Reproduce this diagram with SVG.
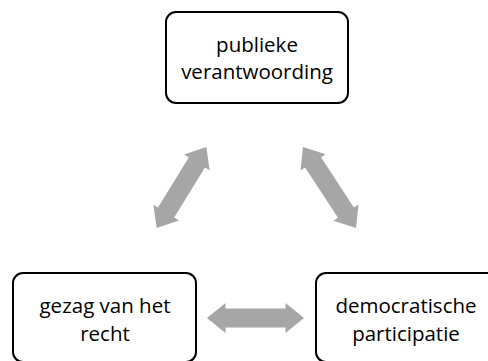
<svg xmlns="http://www.w3.org/2000/svg" width="488" height="361" viewBox="0 0 488 361">
<defs>
<style>
.box{fill:#fff;stroke:#000;stroke-width:2}
.lbl{font-family:"Open Sans","Liberation Sans",sans-serif;font-size:20.5px;fill:#000;text-anchor:middle}
.arr{fill:#a6a6a6}
</style>
<polygon id="arrow" class="arr" points="-48.5,0 -30,-15 -30,-9.5 30,-9.5 30,-15 48.5,0 30,15 30,9.5 -30,9.5 -30,15"/>
</defs>
<rect width="488" height="361" fill="#fff"/>
<g id="connectors">
<use href="#arrow" transform="translate(181.5,187.5) rotate(-58.5) scale(0.98,1)"/>
<use href="#arrow" transform="translate(329.5,187.5) rotate(56.8)"/>
<use href="#arrow" transform="translate(255.5,318)"/>
</g>
<g id="publieke-verantwoording">
<rect class="box" x="166" y="12" width="182" height="91" rx="10"/>
<text class="lbl" x="257" y="52">publieke</text>
<text class="lbl" x="257" y="79">verantwoording</text>
</g>
<g id="gezag-van-het-recht">
<rect class="box" x="13" y="273" width="183" height="89" rx="10"/>
<text class="lbl" x="105" y="313">gezag van het</text>
<text class="lbl" x="105" y="341">recht</text>
</g>
<g id="democratische-participatie">
<rect class="box" x="316" y="273" width="183" height="89" rx="10"/>
<text class="lbl" x="406" y="313">democratische</text>
<text class="lbl" x="406" y="341">participatie</text>
</g>
</svg>
